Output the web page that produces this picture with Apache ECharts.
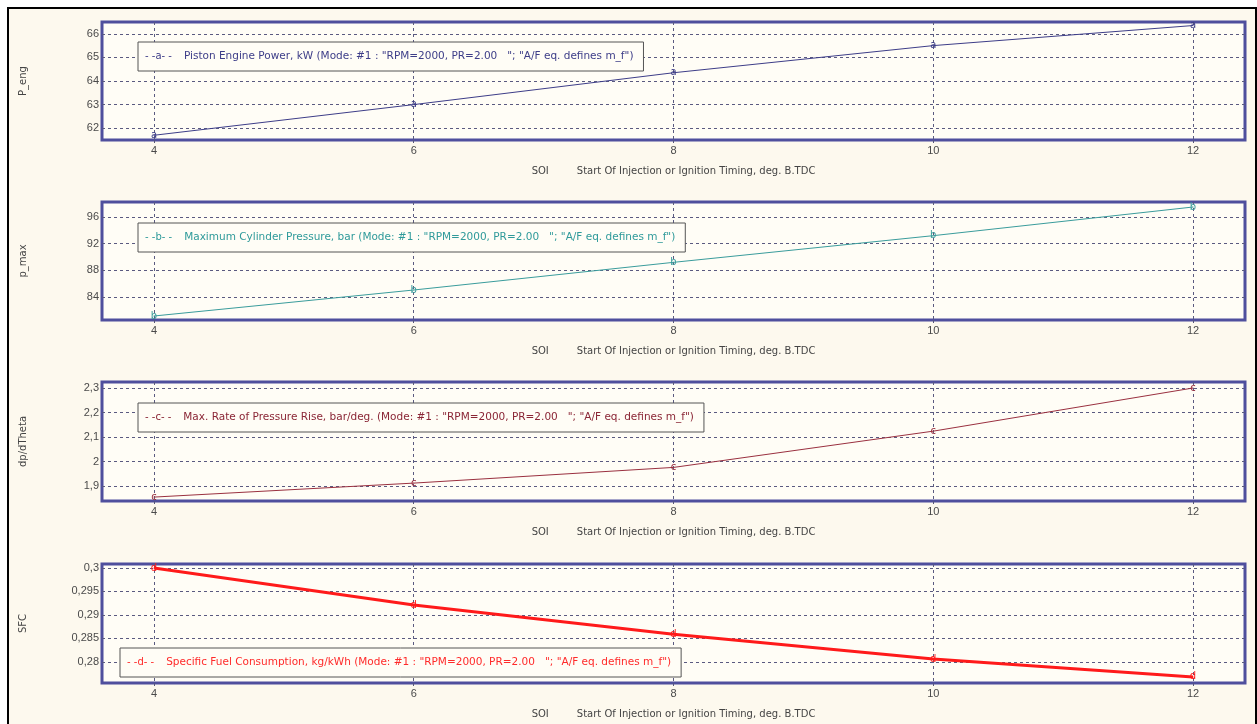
<!DOCTYPE html>
<html>
<head>
<meta charset="utf-8">
<script src="https://cdn.jsdelivr.net/npm/echarts@6/dist/echarts.min.js"></script>
<style>
  html, body { margin: 0; padding: 0; background: #ffffff; }
  #wrap { position: relative; width: 1257px; height: 724px; overflow: hidden; background: #ffffff; }
  #frame { position: absolute; left: 7px; top: 7px; width: 1246px; height: 740px; border: 2px solid #000; background: #fdf9ee; }
  #chart { position: absolute; left: 0; top: 0; width: 1257px; height: 724px; }
</style>
</head>
<body>
<div id="wrap">
  <div id="frame"></div>
  <div id="chart"></div>
</div>
<script>
// ---- data ----
const sdi = [4, 6, 8, 10, 12];
const xTicks = [4, 6, 8, 10, 12];

const pEng = [61.7, 63.0, 64.35, 65.5, 66.35];
const pMax = [81.15, 85.05, 89.2, 93.2, 97.5];
const dpdTheta = [1.855, 1.912, 1.976, 2.124, 2.30];
const sfc = [0.3, 0.2921, 0.2859, 0.2806, 0.2768];

const pEngTicks = [62, 63, 64, 65, 66];
const pMaxTicks = [84, 88, 92, 96];
const dpTicks = [1.9, 2.0, 2.1, 2.2, 2.3];
const sfcTicks = [0.28, 0.285, 0.29, 0.295, 0.3];

const seriesNames = [
  'Piston Engine Power, kW (Mode: #1 : "RPM=2000, PR=2.00   "; "A/F eq. defines m_f")',
  'Maximum Cylinder Pressure, bar (Mode: #1 : "RPM=2000, PR=2.00   "; "A/F eq. defines m_f")',
  'Max. Rate of Pressure Rise, bar/deg. (Mode: #1 : "RPM=2000, PR=2.00   "; "A/F eq. defines m_f")',
  'Specific Fuel Consumption, kg/kWh (Mode: #1 : "RPM=2000, PR=2.00   "; "A/F eq. defines m_f")'
];
const yNames = ['P_eng', 'p_max', 'dp/dTheta', 'SFC'];
const markLetters = ['a', 'b', 'c', 'd'];
const xName = 'Start Of Injection or Ignition Timing, deg. B.TDC';
const xPrefix = 'SOI';

// ---- layout / styles ----
const panels = [
  { data: pEng, ticks: pEngTicks, min: 61.5, max: 66.5, top: 22, height: 118, color: '#3d3d88', text: '#3d3d88', width: 1, legend: { left: 138, top: 42 }, comma: false },
  { data: pMax, ticks: pMaxTicks, min: 80.55, max: 98.25, top: 202, height: 118, color: '#3a9c9c', text: '#2f9a9a', width: 1, legend: { left: 138, top: 223 }, comma: false },
  { data: dpdTheta, ticks: dpTicks, min: 1.839, max: 2.3245, top: 382, height: 119, color: '#9a3040', text: '#8a2535', width: 1, legend: { left: 138, top: 403 }, comma: true },
  { data: sfc, ticks: sfcTicks, min: 0.2755, max: 0.30085, top: 564, height: 119, color: '#ff1a1a', text: '#ff2a2a', width: 3, legend: { left: 120, top: 648 }, comma: true }
];

const FONT = 'Liberation Sans, Arial, sans-serif';
const WFONT = 'DejaVu Sans, Verdana, sans-serif';
const gridLine = { show: true, lineStyle: { color: '#5a5a80', type: [3, 3], width: 1 } };

const grids = [], xAxes = [], yAxes = [], series = [], legends = [];
panels.forEach((p, i) => {
  grids.push({
    left: 102, right: 12, top: p.top, height: p.height,
    show: true, borderColor: '#4f4f9d', borderWidth: 3, backgroundColor: '#fffdf6'
  });
  xAxes.push({
    gridIndex: i, type: 'value', min: 3.6, max: 12.4,
    axisLine: { show: false },
    axisTick: { show: true, inside: false, length: 3, customValues: xTicks, lineStyle: { color: '#55557a' } },
    axisLabel: { customValues: xTicks, color: '#4a4a4a', fontSize: 11, fontFamily: FONT, margin: 5 },
    splitLine: gridLine,
    name: '{a|' + xPrefix + '}{b|' + xName + '}',
    nameLocation: 'middle', nameGap: 26,
    nameTextStyle: {
      fontFamily: WFONT, fontSize: 10, color: '#444',
      rich: {
        a: { fontFamily: WFONT, fontSize: 10, color: '#444', padding: [0, 28, 0, 0] },
        b: { fontFamily: WFONT, fontSize: 10, color: '#444' }
      }
    }
  });
  yAxes.push({
    gridIndex: i, type: 'value', min: p.min, max: p.max,
    axisLine: { show: false },
    axisTick: { show: false, customValues: p.ticks },
    axisLabel: {
      customValues: p.ticks, color: '#4a4a4a', fontSize: 11, fontFamily: FONT, margin: 3,
      formatter: v => {
        let s = String(+v.toFixed(4));
        return p.comma ? s.replace('.', ',') : s;
      }
    },
    splitLine: gridLine,
    name: yNames[i], nameLocation: 'middle', nameGap: 74,
    nameTextStyle: { fontFamily: WFONT, fontSize: 10, color: '#444' }
  });
  series.push({
    name: seriesNames[i], type: 'line', xAxisIndex: i, yAxisIndex: i,
    data: sdi.map((x, k) => [x, p.data[k]]),
    symbol: 'circle', symbolSize: 1, showSymbol: true,
    lineStyle: { color: p.color, width: p.width },
    itemStyle: { color: p.color },
    label: {
      show: true, position: 'inside', formatter: markLetters[i],
      color: p.color, fontSize: 10, fontFamily: WFONT
    },
    emphasis: { disabled: true }, silent: true
  });
  legends.push({
    data: [seriesNames[i]], left: p.legend.left, top: p.legend.top,
    orient: 'horizontal', icon: 'none', itemWidth: 0, itemHeight: 0,
    backgroundColor: '#fffdf6', borderColor: '#555', borderWidth: 1,
    padding: [9, 10, 9, 2], selectedMode: false,
    formatter: name => '{s|- -' + markLetters[i] + '- -}{t|' + name + '}',
    textStyle: {
      color: p.text, fontFamily: WFONT, fontSize: 10.5,
      rich: {
        s: { color: p.text, fontFamily: WFONT, fontSize: 10, padding: [0, 12, 0, 0] },
        t: { color: p.text, fontFamily: WFONT, fontSize: 10.5 }
      }
    }
  });
});

const chart = echarts.init(document.getElementById('chart'), null, { renderer: 'canvas' });
chart.setOption({
  backgroundColor: 'transparent',
  animation: false,
  grid: grids, xAxis: xAxes, yAxis: yAxes, series: series, legend: legends
});
</script>
</body>
</html>
